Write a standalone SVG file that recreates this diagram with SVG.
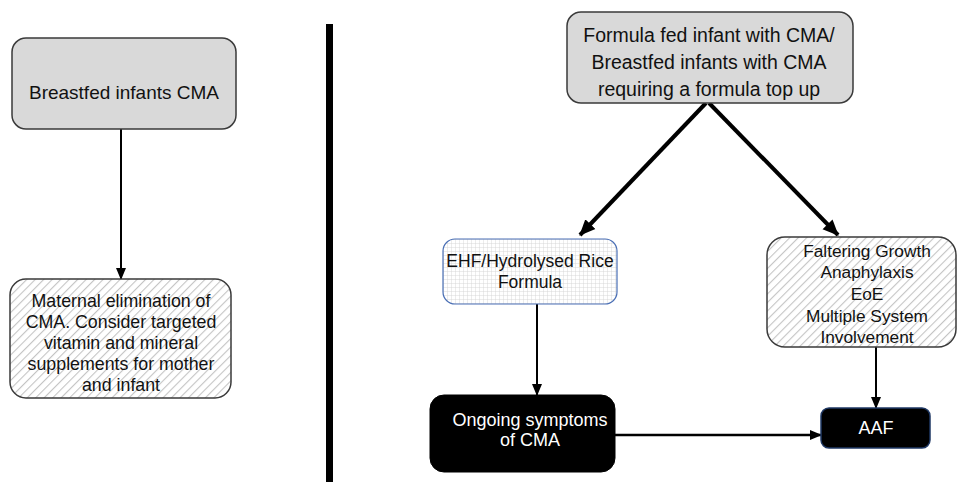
<svg xmlns="http://www.w3.org/2000/svg" width="958" height="482" viewBox="0 0 958 482">
<style>
text{font-family:"Liberation Sans",Arial,sans-serif;text-anchor:middle;fill:#111}
.w{fill:#fff}
.conn{stroke:#000;fill:none}
</style>
<defs>
<pattern id="hatch" patternUnits="userSpaceOnUse" width="6" height="6" patternTransform="rotate(45)">
<rect width="6" height="6" fill="#fff"/>
<line x1="0" y1="0" x2="0" y2="6" stroke="#c4c4c4" stroke-width="2.2"/>
</pattern>
<pattern id="grid" patternUnits="userSpaceOnUse" width="4" height="4">
<rect width="4" height="4" fill="#fff"/>
<path d="M4 0V4M0 4H4" stroke="#cfcfcf" stroke-width="0.8"/>
</pattern>
<marker id="ah" markerUnits="userSpaceOnUse" markerWidth="12" markerHeight="12" viewBox="0 0 12 12" refX="11" refY="6" orient="auto">
<path d="M0 1L12 6L0 11Z" fill="#000"/>
</marker>
<marker id="ah2" markerUnits="userSpaceOnUse" markerWidth="16" markerHeight="16" viewBox="0 0 16 16" refX="15" refY="8" orient="auto">
<path d="M0 1L16 8L0 15Z" fill="#000"/>
</marker>
</defs>
<rect width="958" height="482" fill="#fff"/>
<rect x="326" y="24" width="7" height="458" fill="#000"/>
<g id="connectors">
<line class="conn" x1="121" y1="129" x2="121" y2="279" stroke-width="2" marker-end="url(#ah)"/>
<line class="conn" x1="706" y1="103" x2="580" y2="235" stroke-width="4" marker-end="url(#ah2)"/>
<line class="conn" x1="709" y1="103" x2="838" y2="235" stroke-width="4" marker-end="url(#ah2)"/>
<line class="conn" x1="537" y1="304" x2="537" y2="395" stroke-width="2" marker-end="url(#ah)"/>
<line class="conn" x1="876" y1="347" x2="876" y2="408" stroke-width="2" marker-end="url(#ah)"/>
<line class="conn" x1="615" y1="435" x2="821" y2="435" stroke-width="2.5" marker-end="url(#ah)"/>
</g>
<g id="breastfed">
<rect x="12" y="38" width="224" height="91" rx="14" fill="#d9d9d9" stroke="#3a3a3a" stroke-width="1.5"/>
<text x="124" y="99" font-size="19">Breastfed infants CMA</text>
</g>
<g id="maternal">
<rect x="10" y="279" width="221" height="119" rx="16" fill="url(#hatch)" stroke="#3a3a3a" stroke-width="1.5"/>
<text font-size="17.8"><tspan x="121" y="307">Maternal elimination of</tspan><tspan x="121" y="328">CMA. Consider targeted</tspan><tspan x="121" y="349">vitamin and mineral</tspan><tspan x="121" y="370">supplements for mother</tspan><tspan x="121" y="391">and infant</tspan></text>
</g>
<g id="formula">
<rect x="567" y="12" width="286" height="91" rx="14" fill="#d9d9d9" stroke="#3a3a3a" stroke-width="1.5"/>
<text font-size="19.5"><tspan x="709" y="42">Formula fed infant with CMA/</tspan><tspan x="709" y="69">Breastfed infants with CMA</tspan><tspan x="709" y="96">requiring a formula top up</tspan></text>
</g>
<g id="ehf">
<rect x="443" y="239" width="174" height="65" rx="12" fill="url(#grid)" stroke="#4a6fb5" stroke-width="1.2"/>
<text font-size="17.5"><tspan x="530" y="267">EHF/Hydrolysed Rice</tspan><tspan x="530" y="288">Formula</tspan></text>
</g>
<g id="faltering">
<rect x="767" y="237" width="189" height="110" rx="18" fill="url(#hatch)" stroke="#3a3a3a" stroke-width="1.5"/>
<text font-size="17.3"><tspan x="867" y="257">Faltering Growth</tspan><tspan x="867" y="278">Anaphylaxis</tspan><tspan x="867" y="300">EoE</tspan><tspan x="867" y="322">Multiple System</tspan><tspan x="867" y="343">Involvement</tspan></text>
</g>
<g id="ongoing">
<rect x="430" y="395" width="185" height="77" rx="14" fill="#000" stroke="#000"/>
<text class="w" font-size="18"><tspan x="530" y="426">Ongoing symptoms</tspan><tspan x="530" y="446">of CMA</tspan></text>
</g>
<g id="aaf">
<rect x="821" y="408" width="109" height="40" rx="8" fill="#000" stroke="#1f3864" stroke-width="1.5"/>
<text class="w" x="876" y="434" font-size="18">AAF</text>
</g>
</svg>
